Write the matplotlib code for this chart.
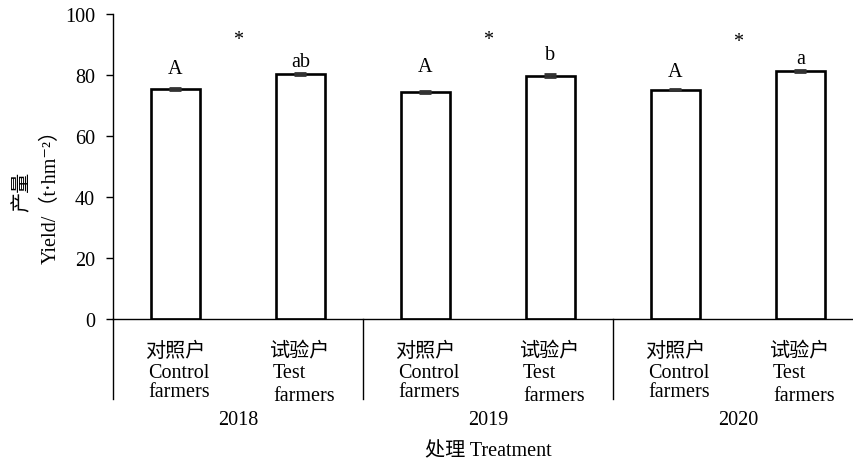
import matplotlib
matplotlib.use('Agg')
import matplotlib.pyplot as plt
import matplotlib.transforms as mtransforms

plt.rcParams['font.family'] = ['Liberation Serif', 'Noto Sans CJK SC', 'DejaVu Serif']

# data
years = ['2018', '2019', '2020']
cn_labels = ['对照户', '试验户', '对照户', '试验户', '对照户', '试验户']
en_labels = ['Control\nfarmers', 'Test\nfarmers', 'Control\nfarmers', 'Test\nfarmers', 'Control\nfarmers', 'Test\nfarmers']
yields = [75.4, 80.3, 74.5, 79.8, 75.2, 81.2]
errors = [0.2, 0.4, 0.4, 0.4, 0.2, 0.3]
letters = ['A', 'ab', 'A', 'b', 'A', 'a']
letter_y = [80.6, 82.8, 81.4, 85.2, 79.8, 83.8]
star_pos = [0.5, 2.5, 4.5]
star_y = [91.5, 91.8, 91.0]

fs = 14.5

fig = plt.figure(figsize=(8.54, 4.64), dpi=100)
ax = fig.add_axes([113 / 854, 144 / 464, 750 / 854, 305 / 464])

x = list(range(len(yields)))
ax.bar(x, yields, width=0.385, color='white', edgecolor='black', linewidth=1.9, zorder=2)
ax.errorbar(x, yields, yerr=errors, fmt='none', ecolor='#333333', elinewidth=1,
            capsize=4.5, capthick=2, zorder=3)

for xi, lab, ly in zip(x, letters, letter_y):
    ax.text(xi, ly, lab, ha='center', va='baseline', fontsize=fs)
for sp, sy in zip(star_pos, star_y):
    ax.text(sp, sy, '*', ha='center', va='center', fontsize=fs)

ax.set_xlim(-0.5, 5.5)
ax.set_ylim(0, 100)
ax.set_yticks(range(0, 101, 20))
ax.tick_params(axis='y', direction='out', length=5, width=1, labelsize=fs, pad=8)
ax.set_xticks([])
ax.spines['top'].set_visible(False)
ax.spines['right'].set_visible(False)
ax.spines['left'].set_linewidth(1)
ax.spines['bottom'].set_linewidth(1)

trans = mtransforms.blended_transform_factory(ax.transData, ax.transAxes)

# group separators below the axis
for sep in [-0.5, 1.5, 3.5]:
    ax.plot([sep, sep], [0, -0.262], color='black', lw=1, transform=trans, clip_on=False)

# category labels
for xi, cn, en in zip(x, cn_labels, en_labels):
    ax.text(xi, -0.105, cn, transform=trans, ha='center', va='center', fontsize=fs)
    if en.startswith('Test'):
        ax.text(xi - 0.22, -0.145, en, transform=trans, ha='left', va='top',
                fontsize=fs, linespacing=1.25)
    else:
        ax.text(xi + 0.03, -0.145, en, transform=trans, ha='center', va='top',
                fontsize=fs, linespacing=1.0)

for i, yr in enumerate(years):
    ax.text(2 * i + 0.5, -0.328, yr, transform=trans, ha='center', va='center', fontsize=fs)

ax.text(2.5, -0.433, '处理 Treatment', transform=trans, ha='center', va='center', fontsize=fs)

ax.set_ylabel('产量\nYield/（t·hm⁻²）', fontsize=fs, linespacing=1.6)
ax.yaxis.set_label_coords(-0.07, 0.42)

fig.savefig('out.png', dpi=100)
